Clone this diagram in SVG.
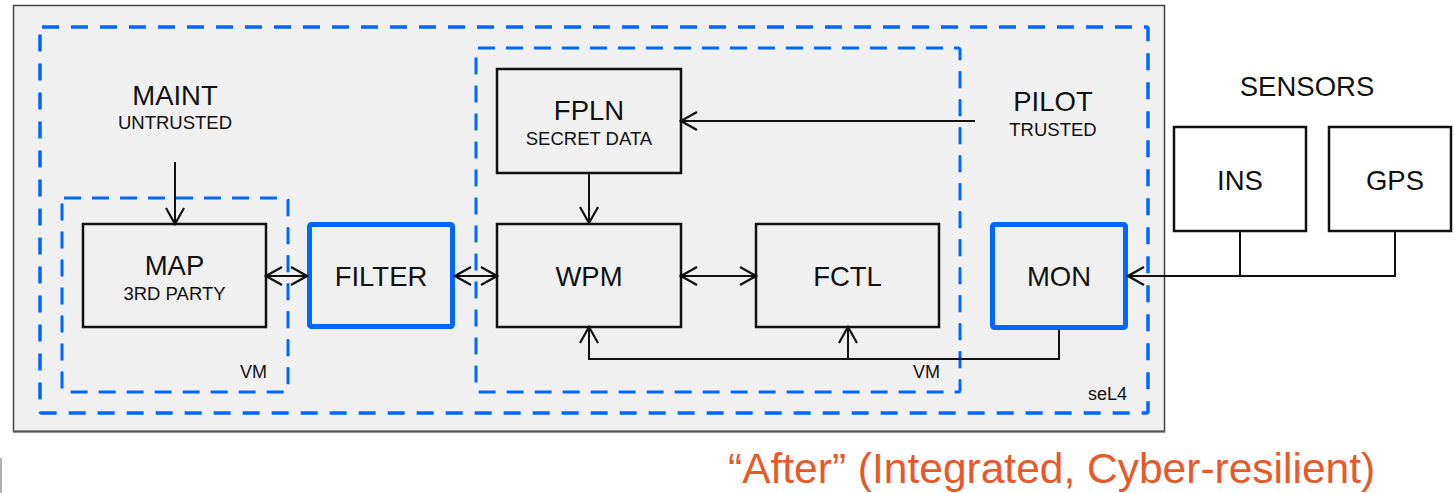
<svg xmlns="http://www.w3.org/2000/svg" width="1454" height="493" viewBox="0 0 1454 493">
<style>
  text { font-family: "Liberation Sans", Arial, sans-serif; fill: #111; }
  .t { font-size: 27.5px; text-anchor: middle; }
  .s { font-size: 18.5px; text-anchor: middle; }
  .r { font-size: 18px; text-anchor: end; }
  .box { fill: #f0f0f0; stroke: #111; stroke-width: 2.5; }
  .wbox { fill: #ffffff; stroke: #111; stroke-width: 2.5; }
  .bbox { fill: #f0f0f0; stroke: #0066ff; stroke-width: 5; }
  .dash { fill: none; stroke: #0066ff; stroke-width: 3.5; stroke-dasharray: 17 12; }
  .vm { fill: none; stroke: #0066ff; stroke-width: 3; stroke-dasharray: 17 11; }
  .c { fill: none; stroke: #111; stroke-width: 2; }
</style>
<defs>
  <marker id="ah" markerUnits="userSpaceOnUse" markerWidth="20" markerHeight="22" refX="18" refY="11" orient="auto-start-reverse">
    <path d="M2,2 L18,11 L2,20" fill="none" stroke="#111" stroke-width="2.2"/>
  </marker>
</defs>

<g id="panel">
  <rect x="13.5" y="5.5" width="1151" height="426" fill="#f0f0f0" stroke="#444" stroke-width="1.5"/>
  <line x1="13" y1="431.5" x2="1165" y2="431.5" stroke="#555" stroke-width="2"/>
</g>
<line x1="1" y1="458" x2="1" y2="493" stroke="#999" stroke-width="1.5"/>

<g id="sel4">
  <rect class="dash" x="40" y="27" width="1108" height="386" rx="2"/>
  <text class="r" x="1127" y="400">seL4</text>
</g>
<g id="vm-left">
  <rect class="vm" x="62" y="198" width="226" height="194" rx="2"/>
  <text class="r" x="267" y="378">VM</text>
</g>
<g id="vm-right">
  <rect class="vm" x="476" y="48" width="484" height="344" rx="2"/>
  <text class="r" x="940" y="378">VM</text>
</g>

<g id="maint">
  <text class="t" x="175" y="105">MAINT</text>
  <text class="s" x="175" y="129">UNTRUSTED</text>
</g>
<g id="pilot">
  <text class="t" x="1053" y="111">PILOT</text>
  <text class="s" x="1053" y="136">TRUSTED</text>
</g>
<g id="sensors">
  <text class="t" x="1307" y="96">SENSORS</text>
</g>

<g id="map">
  <rect class="box" x="83" y="224" width="183" height="103"/>
  <text class="t" x="174.5" y="275">MAP</text>
  <text class="s" x="174.5" y="300">3RD PARTY</text>
</g>
<g id="filter">
  <rect class="bbox" x="309.5" y="224.5" width="143" height="102" rx="2"/>
  <text class="t" x="381" y="286">FILTER</text>
</g>
<g id="fpln">
  <rect class="box" x="497" y="69" width="184" height="104"/>
  <text class="t" x="589" y="120">FPLN</text>
  <text class="s" x="589" y="145">SECRET DATA</text>
</g>
<g id="wpm">
  <rect class="box" x="497" y="224" width="184" height="103"/>
  <text class="t" x="589" y="286">WPM</text>
</g>
<g id="fctl">
  <rect class="box" x="756" y="224" width="183" height="103"/>
  <text class="t" x="847.5" y="286">FCTL</text>
</g>
<g id="mon">
  <rect class="bbox" x="992.5" y="224.5" width="133" height="103" rx="2"/>
  <text class="t" x="1059" y="286">MON</text>
</g>
<g id="ins">
  <rect class="wbox" x="1174" y="127" width="132" height="104"/>
  <text class="t" x="1240" y="190">INS</text>
</g>
<g id="gps">
  <rect class="wbox" x="1329" y="127" width="122" height="104"/>
  <text class="t" x="1395" y="190">GPS</text>
</g>

<g id="connectors">
  <path class="c" d="M175,162 V224" marker-end="url(#ah)"/>
  <path class="c" d="M975,121 H681" marker-end="url(#ah)"/>
  <path class="c" d="M589,173 V223" marker-end="url(#ah)"/>
  <path class="c" d="M266,276 H307" marker-start="url(#ah)" marker-end="url(#ah)"/>
  <path class="c" d="M455,276 H497" marker-start="url(#ah)" marker-end="url(#ah)"/>
  <path class="c" d="M681,276 H756" marker-start="url(#ah)" marker-end="url(#ah)"/>
  <path class="c" d="M1240,231 V276"/>
  <path class="c" d="M1395,231 V276 H1128" marker-end="url(#ah)"/>
  <path class="c" d="M1059,330 V359 H589 V327" marker-end="url(#ah)"/>
  <path class="c" d="M848,359 V327" marker-end="url(#ah)"/>
</g>

<text x="728" y="483" style="font-size:42.5px; fill:#e8592a;">“After” (Integrated, Cyber-resilient)</text>
</svg>
